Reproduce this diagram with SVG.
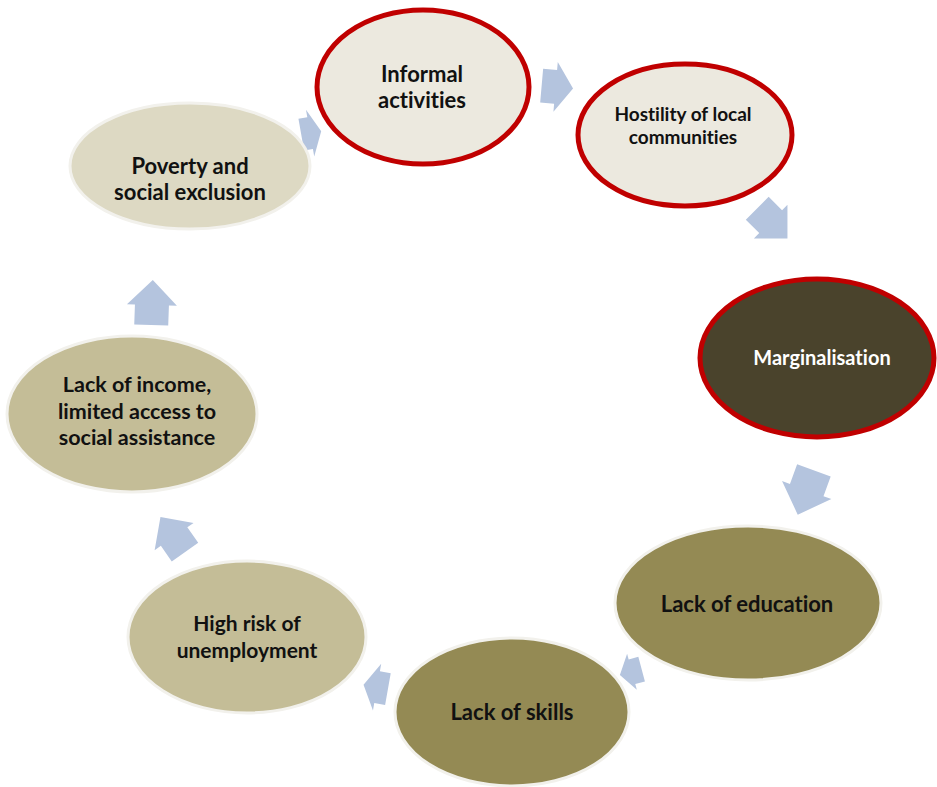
<svg xmlns="http://www.w3.org/2000/svg" width="937" height="787" viewBox="0 0 937 787">
<style>
.t{font-family:Lato,"Open Sans","Liberation Sans",sans-serif;font-weight:bold;text-anchor:middle;fill:#111;font-variant-ligatures:none}
.red{stroke:#C00000;stroke-width:5}
.halo{stroke:#F2F1EC;stroke-width:3}
.arr{fill:#B4C4DE}
</style>
<defs>
<path id="ar" d="M-22,-17 L-2,-17 L-2,-25 L23,0 L-2,25 L-2,17 L-22,17 Z"/>
</defs>
<rect width="937" height="787" fill="#fff"/>
<g id="connectors" class="arr">
<use href="#ar" transform="translate(311,133) rotate(-10) scale(0.45,0.95)"/>
<use href="#ar" transform="translate(557,87) rotate(5) scale(0.7,1)"/>
<use href="#ar" transform="translate(772,223) rotate(45) scale(0.95)"/>
<use href="#ar" transform="translate(806,492) rotate(110) scale(1.05)"/>
<use href="#ar" transform="translate(631,672) rotate(165) scale(0.5,0.75)"/>
<use href="#ar" transform="translate(376,687) rotate(190) scale(0.55,0.95)"/>
<use href="#ar" transform="translate(173,535) rotate(-125) scale(0.95)"/>
<use href="#ar" transform="translate(152,303) rotate(-88)"/>
</g>
<g id="poverty">
<ellipse cx="190" cy="166" rx="120" ry="63" fill="#DDD9C3" class="halo"/>
<text class="t" font-size="22" x="190" y="174">Poverty and</text>
<text class="t" font-size="22" x="190" y="200">social exclusion</text>
</g>
<g id="informal">
<ellipse cx="423" cy="87" rx="106" ry="77" fill="#ECE9DF" class="red"/>
<text class="t" font-size="22" x="422" y="82">Informal</text>
<text class="t" font-size="22" x="422" y="108">activities</text>
</g>
<g id="hostility">
<ellipse cx="685" cy="135" rx="107" ry="71" fill="#ECE9DF" class="red"/>
<text class="t" font-size="19" x="683" y="121">Hostility of local</text>
<text class="t" font-size="19" x="683" y="144">communities</text>
</g>
<g id="marginalisation">
<ellipse cx="817" cy="358" rx="117" ry="79" fill="#4A432C" class="red"/>
<text class="t" font-size="20" x="822" y="365" style="fill:#fff">Marginalisation</text>
</g>
<g id="education">
<ellipse cx="748" cy="603" rx="133" ry="77" fill="#948A54" class="halo"/>
<text class="t" font-size="22" x="747" y="612">Lack of education</text>
</g>
<g id="skills">
<ellipse cx="512" cy="712" rx="117" ry="74" fill="#948A54" class="halo"/>
<text class="t" font-size="22" x="512" y="720">Lack of skills</text>
</g>
<g id="unemployment">
<ellipse cx="247" cy="637" rx="119" ry="76" fill="#C4BD97" class="halo"/>
<text class="t" font-size="21" x="247" y="631">High risk of</text>
<text class="t" font-size="21" x="247" y="658">unemployment</text>
</g>
<g id="income">
<ellipse cx="132" cy="414" rx="125" ry="78" fill="#C4BD97" class="halo"/>
<text class="t" font-size="21.5" x="137" y="392">Lack of income,</text>
<text class="t" font-size="21.5" x="137" y="419">limited access to</text>
<text class="t" font-size="21.5" x="137" y="445">social assistance</text>
</g>
</svg>
